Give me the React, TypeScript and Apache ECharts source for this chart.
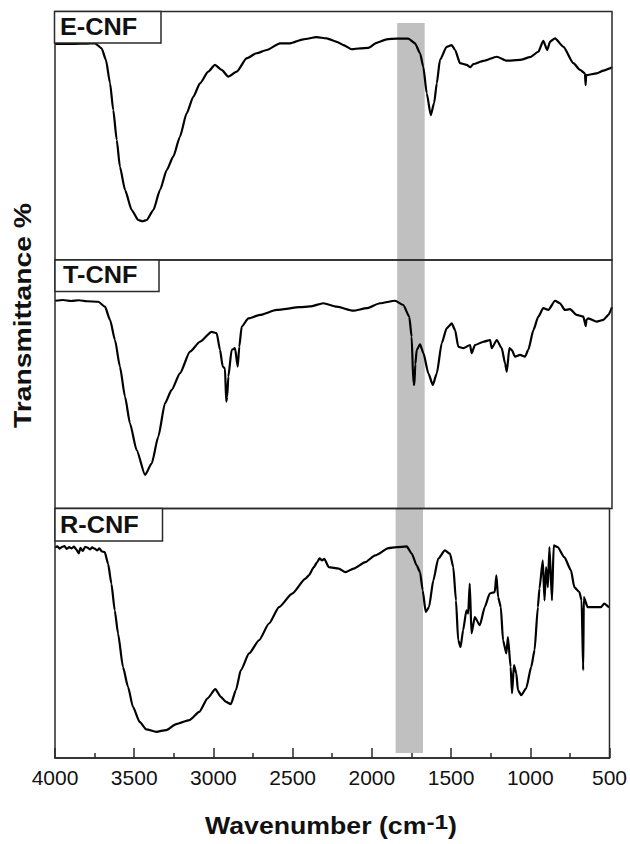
import React, { useEffect, useRef } from "react";
import * as echarts from "echarts";

const PANEL_LABELS = ["E-CNF", "T-CNF", "R-CNF"];
const X_MIN = 500;
const X_MAX = 4000;
const X_INTERVAL = 500;
const MAJOR_TICKS = [4000, 3500, 3000, 2500, 2000, 1500, 1000, 500];
const MINOR_TICKS = [3750, 3250, 2750, 2250, 1750, 1250, 750];
const BAND: [number, number] = [1850, 1677];
const Y_TITLE = "Transmittance %";

const ECNF: [number, number][] = [
  [4000, 87.0], [3880, 87.0], [3800, 87.1], [3749, 87.2], [3707, 85.2], [3680, 80.5], [3654, 71.1],
  [3634, 60.4], [3612, 48.3], [3592, 37.5], [3560, 28.2], [3518, 20.1], [3477, 16.1], [3450, 15.6], [3424, 16.1],
  [3382, 20.1], [3340, 28.2], [3298, 36.2], [3257, 41.6], [3215, 49.6], [3173, 59.0], [3131, 65.7],
  [3089, 71.1], [3037, 75.8], [2995, 78.5], [2953, 76.5], [2911, 73.8], [2858, 75.8], [2795, 81.2],
  [2733, 83.2], [2670, 84.5], [2586, 87.2], [2523, 87.2], [2440, 88.8], [2356, 89.7], [2293, 89.2],
  [2230, 87.8], [2188, 86.5], [2136, 84.8], [2083, 85.2], [2031, 85.4], [1979, 87.4], [1916, 88.8],
  [1853, 89.1], [1780, 89.1], [1738, 87.2], [1706, 83.2], [1686, 77.8], [1664, 67.1], [1639, 58.3],
  [1618, 63.1], [1601, 71.1], [1581, 80.5], [1539, 85.8], [1507, 86.5], [1486, 84.5], [1455, 79.2],
  [1413, 78.5], [1390, 77.6], [1371, 78.8], [1308, 80.1], [1224, 81.8], [1161, 80.2], [1078, 80.5],
  [1015, 81.6], [963, 83.8], [932, 88.2], [907, 84.5], [889, 87.9], [858, 89.2], [805, 85.8],
  [743, 79.2], [701, 76.5], [670, 75.1], [666, 70.4], [662, 74.4], [596, 75.1], [554, 76.2],
  [512, 77.1], [500, 77.7],
];

const TCNF: [number, number][] = [
  [4000, 83.6], [3950, 83.9], [3900, 83.5], [3850, 83.8], [3800, 83.4], [3728, 83.2], [3686, 81.2],
  [3654, 75.9], [3623, 67.8], [3592, 57.1], [3560, 45.0], [3529, 34.3], [3487, 23.5], [3434, 13.5],
  [3392, 18.2], [3351, 28.9], [3309, 42.3], [3267, 47.7], [3215, 54.4], [3152, 63.1], [3089, 67.1],
  [3016, 71.1], [2984, 70.5], [2963, 63.8], [2946, 57.1], [2932, 56.4], [2924, 43.0], [2918, 45.0],
  [2911, 53.0], [2890, 63.8], [2869, 64.5], [2852, 57.1], [2842, 65.1], [2827, 73.2], [2785, 76.5],
  [2712, 77.9], [2607, 79.9], [2460, 81.0], [2398, 81.3], [2314, 82.6], [2230, 81.2], [2126, 79.6],
  [2041, 80.6], [1958, 82.6], [1864, 83.6], [1811, 81.9], [1774, 77.2], [1759, 69.1], [1748, 50.4],
  [1742, 49.7], [1736, 58.0], [1727, 63.8], [1706, 66.1], [1685, 62.5], [1654, 54.4], [1626, 49.7],
  [1601, 54.4], [1570, 66.5], [1539, 72.5], [1507, 74.5], [1486, 71.8], [1466, 65.1], [1434, 64.5],
  [1392, 65.8], [1382, 62.5], [1361, 65.8], [1308, 67.1], [1266, 67.8], [1256, 64.5], [1224, 67.8],
  [1193, 64.5], [1172, 58.4], [1161, 55.0], [1145, 64.5], [1130, 63.8], [1109, 61.1], [1078, 61.8],
  [1047, 61.1], [1026, 63.8], [994, 71.8], [963, 77.2], [932, 80.6], [900, 79.9], [858, 83.6],
  [827, 82.6], [796, 79.9], [764, 80.2], [722, 77.9], [680, 77.2], [665, 73.4], [660, 76.0],
  [649, 76.5], [596, 75.2], [554, 75.9], [523, 77.9], [500, 81.0],
];

const RCNF: [number, number][] = [
  [4000, 84.3], [3985, 84.8], [3970, 83.9], [3955, 84.6], [3940, 84.9], [3925, 83.8], [3910, 84.5],
  [3895, 84.0], [3880, 84.7], [3865, 83.5], [3850, 82.0], [3840, 84.2], [3825, 83.0], [3810, 84.6],
  [3795, 84.3], [3780, 83.6], [3765, 84.4], [3750, 83.9], [3735, 83.2], [3720, 84.0], [3705, 82.8],
  [3686, 82.5], [3665, 77.9], [3644, 69.9], [3623, 59.2], [3602, 49.9], [3571, 36.5], [3539, 28.5],
  [3508, 20.5], [3466, 14.5], [3424, 11.5], [3361, 10.5], [3298, 11.2], [3235, 13.6], [3152, 15.2],
  [3089, 18.5], [3037, 23.9], [2988, 27.6], [2953, 24.5], [2921, 22.5], [2890, 21.6], [2858, 27.2],
  [2827, 35.2], [2775, 41.9], [2712, 47.2], [2649, 53.9], [2586, 60.5], [2503, 65.9], [2419, 71.9],
  [2398, 73.2], [2366, 76.5], [2345, 78.5], [2330, 80.0], [2314, 79.2], [2300, 79.8], [2272, 76.5],
  [2209, 75.9], [2167, 74.5], [2115, 75.9], [2041, 78.5], [1979, 81.2], [1895, 84.1], [1843, 84.5],
  [1780, 84.8], [1748, 81.9], [1717, 77.2], [1696, 74.5], [1679, 67.2], [1660, 58.5], [1639, 60.5],
  [1612, 71.2], [1581, 79.9], [1539, 83.2], [1507, 81.9], [1486, 76.5], [1469, 63.2], [1455, 47.2],
  [1440, 44.5], [1424, 51.2], [1403, 59.2], [1392, 57.9], [1382, 69.9], [1371, 49.9], [1350, 56.5],
  [1319, 53.2], [1287, 60.5], [1256, 65.9], [1224, 66.5], [1214, 73.2], [1203, 64.5], [1186, 60.5],
  [1172, 47.2], [1151, 41.9], [1141, 48.5], [1124, 36.5], [1115, 25.9], [1103, 37.2], [1088, 33.9],
  [1078, 27.2], [1057, 25.2], [1026, 27.9], [994, 36.5], [973, 43.2], [952, 60.5], [942, 67.9],
  [921, 79.2], [910, 63.2], [900, 76.5], [889, 68.5], [879, 84.5], [863, 63.2], [852, 85.2],
  [827, 84.5], [785, 80.5], [743, 75.2], [722, 68.5], [690, 66.5], [676, 63.2], [666, 35.2],
  [662, 64.5], [638, 60.5], [554, 60.5], [533, 61.9], [502, 60.5], [500, 60.5],
];

const SERIES_DATA = [ECNF, TCNF, RCNF];

const FONT = "'Liberation Sans', Arial, Helvetica, sans-serif";
const LINE = "#2a2a2a";

export default function App() {
  const ref = useRef<HTMLDivElement>(null);

  useEffect(() => {
    if (!ref.current) return;
    const chart = echarts.init(ref.current, undefined, { renderer: "svg" });

    const grids = [
      { top: 11.5, height: 248.5 },
      { top: 260, height: 248.5 },
      { top: 508.5, height: 249.5 },
    ].map((g) => ({
      left: 55,
      right: 18,
      top: g.top,
      height: g.height,
      show: true,
      borderColor: LINE,
      borderWidth: 1.5,
      backgroundColor: "transparent",
      z: 5,
    }));

    const bandY: [number, number][] = [
      [95.4, 0],
      [100, 0],
      [100, 2],
    ];

    const xAxes = [0, 1, 2].map((i) => {
      const bottom = i === 2;
      return {
        type: "value",
        gridIndex: i,
        min: X_MIN,
        max: X_MAX,
        interval: X_INTERVAL,
        inverse: true,
        show: true,
        z: 10,
        axisLine: { show: bottom, onZero: false, lineStyle: { color: LINE, width: 1.5 } },
        axisTick: { show: false },
        minorTick: { show: false },
        splitLine: { show: false },
        minorSplitLine: { show: false },
        axisLabel: {
          show: bottom,
          margin: 9,
          fontSize: 21,
          color: "#111",
          fontFamily: FONT,
          formatter: (v: number) => String(v),
        },
      };
    });

    const yAxes = [0, 1, 2].map((i) => ({
      type: "value",
      gridIndex: i,
      min: 0,
      max: 100,
      show: false,
    }));

    const tickLines = [
      ...MAJOR_TICKS.map((v) => [{ coord: [v, 0] }, { coord: [v, 4] }]),
      ...MINOR_TICKS.map((v) => [{ coord: [v, 0] }, { coord: [v, 2] }]),
    ];

    const series = SERIES_DATA.map((d, i) => ({
      type: "line",
      name: PANEL_LABELS[i],
      xAxisIndex: i,
      yAxisIndex: i,
      data: d,
      showSymbol: false,
      symbol: "none",
      smooth: 0.2,
      smoothMonotone: "x",
      lineStyle: { color: "#000", width: 2.2 },
      z: 2,
      markArea: {
        silent: true,
        itemStyle: { color: "#c0c0c0", opacity: 1 },
        data: [
          [
            { xAxis: BAND[0], yAxis: bandY[i][0] },
            { xAxis: BAND[1], yAxis: bandY[i][1] },
          ],
        ],
      },
      markLine:
        i === 2
          ? {
              silent: true,
              symbol: ["none", "none"],
              label: { show: false },
              lineStyle: { color: LINE, width: 1.5, type: "solid" },
              emphasis: { disabled: true },
              data: tickLines,
            }
          : undefined,
    }));

    const boxes = [
      { x: 54.5, y: 11.5, w: 106.5, h: 31.5, tx: 60, ty: 26.5 },
      { x: 55, y: 260, w: 104, h: 31.5, tx: 63, ty: 275 },
      { x: 55, y: 508.5, w: 107.5, h: 32.5, tx: 60, ty: 525 },
    ];

    const graphic: any[] = [];
    boxes.forEach((b, i) => {
      graphic.push({
        type: "rect",
        z: 100,
        shape: { x: b.x, y: b.y, width: b.w, height: b.h },
        style: { fill: "#fff", stroke: LINE, lineWidth: 1.5 },
      });
      graphic.push({
        type: "text",
        z: 101,
        x: b.tx,
        y: b.ty,
        scaleX: 1.1,
        style: {
          text: PANEL_LABELS[i],
          font: `bold 23px ${FONT}`,
          fill: "#111",
          align: "left",
          verticalAlign: "middle",
        },
      });
    });

    graphic.push({
      type: "text",
      z: 101,
      x: 22.5,
      y: 315.5,
      rotation: Math.PI / 2,
      scaleX: 1.18,
      style: {
        text: Y_TITLE,
        font: `bold 24px ${FONT}`,
        fill: "#111",
        align: "center",
        verticalAlign: "middle",
      },
    });

    graphic.push({
      type: "text",
      z: 101,
      x: 331,
      y: 824,
      scaleX: 1.16,
      style: {
        text: "{a|Wavenumber (cm}{s|-1}{a|)}",
        fill: "#111",
        align: "center",
        verticalAlign: "middle",
        rich: {
          a: { fontFamily: FONT, fontWeight: "bold", fontSize: 23, fill: "#111", verticalAlign: "bottom", lineHeight: 26 },
          s: { fontFamily: FONT, fontWeight: "bold", fontSize: 21, fill: "#111", verticalAlign: "top", lineHeight: 22, padding: [0, 0, 15, 0] },
        },
      },
    });

    chart.setOption({
      animation: false,
      backgroundColor: "#fff",
      grid: grids,
      xAxis: xAxes,
      yAxis: yAxes,
      series,
      graphic,
    });

    return () => chart.dispose();
  }, []);

  return (
    <div
      ref={ref}
      style={{ position: "fixed", left: 0, top: 0, width: 630, height: 844 }}
    />
  );
}
